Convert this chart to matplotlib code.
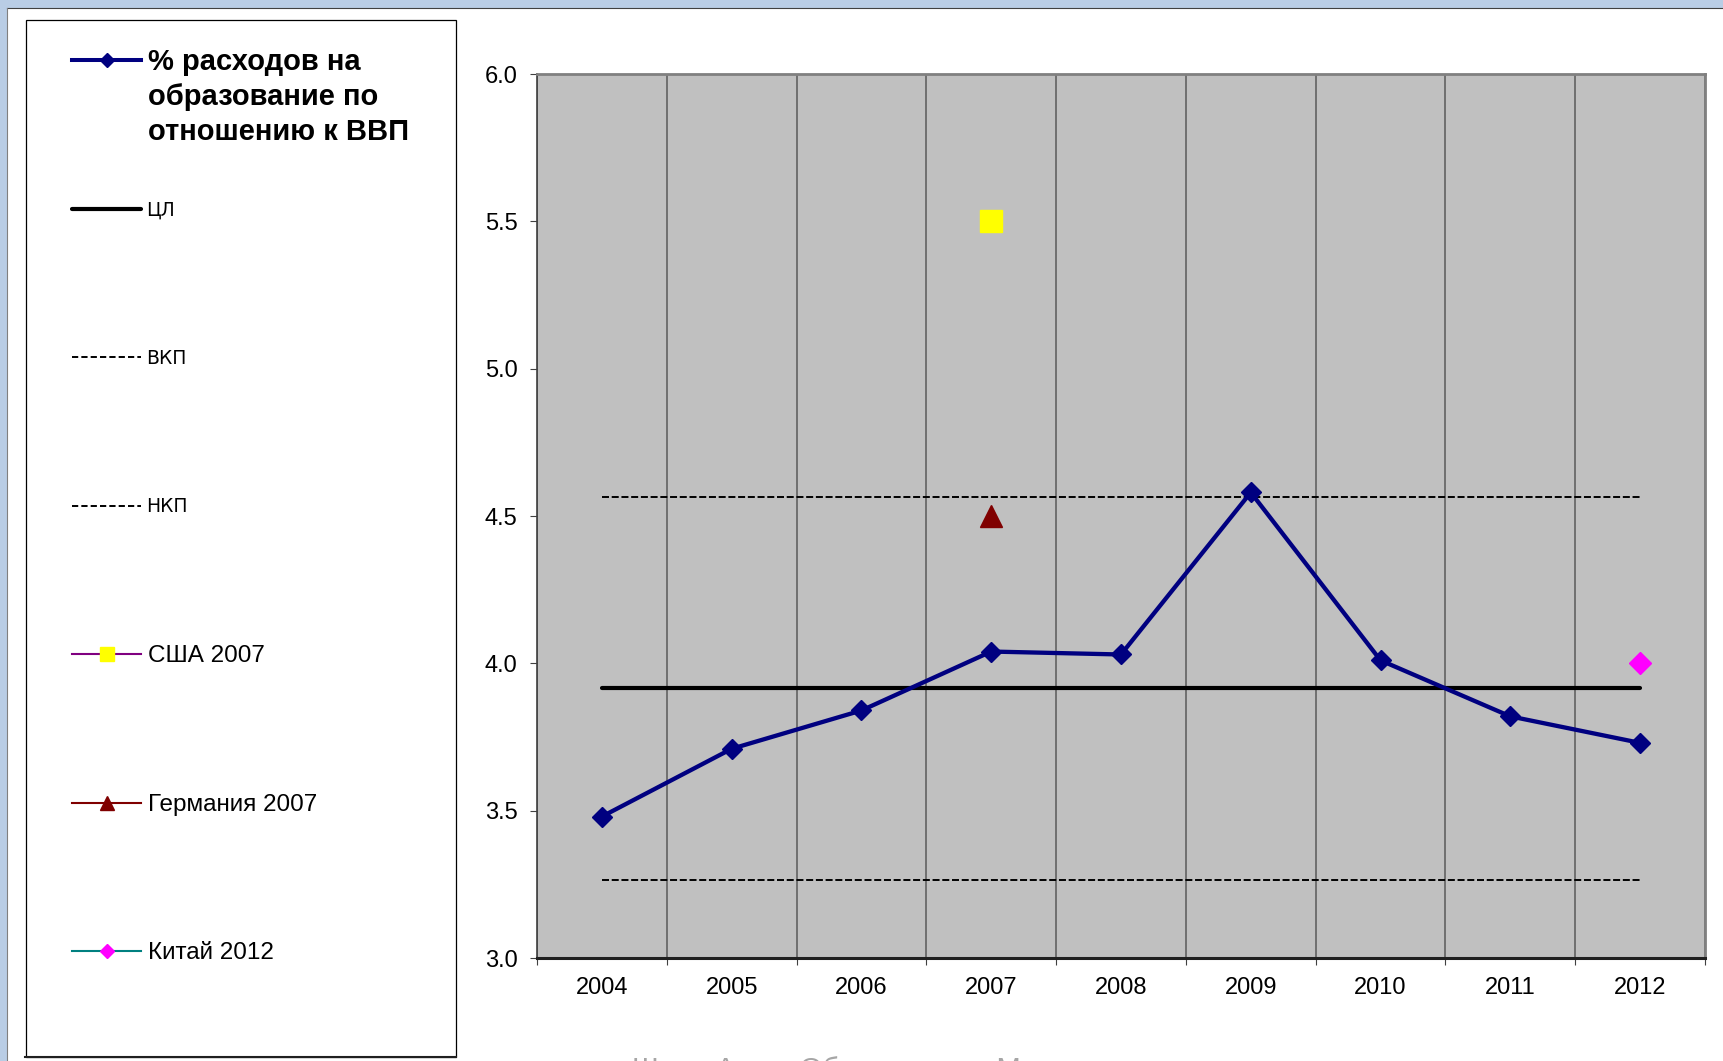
import matplotlib
matplotlib.use('Agg')
import matplotlib.pyplot as plt
from matplotlib.patches import Rectangle
import numpy as np

plt.rcParams['font.family'] = ['Liberation Sans', 'DejaVu Sans']

# data
years = ['2004', '2005', '2006', '2007', '2008', '2009', '2010', '2011', '2012']
share = [3.48, 3.71, 3.84, 4.04, 4.03, 4.58, 4.01, 3.82, 3.73]
cl = 3.915    # ЦЛ
ucl = 4.565   # ВКП
lcl = 3.265   # НКП
usa_2007 = 5.5
germany_2007 = 4.5
china_2012 = 4.0
y_ticks = [3.0, 3.5, 4.0, 4.5, 5.0, 5.5, 6.0]

title_lines = ['% расходов на', 'образование по', 'отношению к ВВП']
legend_labels = ['ЦЛ', 'ВКП', 'НКП', 'США 2007', 'Германия 2007', 'Китай 2012']
footer = 'Шмак Анна  Образование  Москва'

W, H = 1723, 1061
fig = plt.figure(figsize=(W / 100, H / 100), dpi=100, facecolor='#B9CDE5')

# background layer in pixel coordinates
bg = fig.add_axes([0, 0, 1, 1])
bg.set_xlim(0, W)
bg.set_ylim(H, 0)
bg.axis('off')
bg.add_patch(Rectangle((7, 8), W - 7, H - 8, facecolor='white', edgecolor='none'))
bg.plot([7, W], [7.5, 7.5], color='#404040', lw=0.8)
bg.plot([6.5, 6.5], [8, H], color='#808080', lw=0.8)
bg.add_patch(Rectangle((25.5, 19.5), 430, 1037, facecolor='white', edgecolor='black', lw=0.9))
bg.plot([25, 456], [1056.5, 1056.5], color='#202020', lw=1.5)

# legend samples
rows = [60 + i * 148.5 for i in range(7)]
hx = [72, 141]
mx = 107
tx = 148

bg.plot(hx, [rows[0]] * 2, color='#000080', lw=2.9)
bg.plot([mx], [rows[0]], marker='D', color='#000080', ms=7)
for i, line in enumerate(title_lines):
    bg.text(tx, 70.5 + i * 34.6, line, fontsize=21, fontweight='bold',
            va='baseline', ha='left')

bg.plot(hx, [rows[1]] * 2, color='black', lw=3, solid_capstyle='round')
bg.plot(hx, [rows[2]] * 2, color='black', lw=1.4, ls=(0, (3.2, 1.6)))
bg.plot(hx, [rows[3]] * 2, color='black', lw=1.4, ls=(0, (3.2, 1.6)))
for lab, r in zip(legend_labels[:3], rows[1:4]):
    bg.text(tx - 2, r + 6.8, lab, fontsize=13.5, family='DejaVu Sans',
            va='baseline', ha='left')

bg.plot(hx, [rows[4]] * 2, color='#800080', lw=1.5)
bg.plot([mx], [rows[4]], marker='s', color='yellow', ms=10.5, mec='yellow')
bg.plot(hx, [rows[5]] * 2, color='#800000', lw=1.5)
bg.plot([mx], [rows[5]], marker='^', color='#800000', ms=10.5)
bg.plot(hx, [rows[6]] * 2, color='#008080', lw=1.5)
bg.plot([mx], [rows[6]], marker='D', color='magenta', ms=7.5)
for lab, r in zip(legend_labels[3:], rows[4:]):
    bg.text(tx, r + 8, lab, fontsize=17.5, va='baseline', ha='left')

# footer caption, cut by the lower edge as in the original slide
bg.text(632, 1056, footer, fontsize=21, color='#A6A6A6', va='top', ha='left')

# main chart
left, right, top, bottom = 537, 1705, 74, 958
ax = fig.add_axes([left / W, (H - bottom) / H, (right - left) / W, (bottom - top) / H])
ax.set_facecolor('#C0C0C0')
x = np.arange(len(years))
ax.set_xlim(-0.5, len(years) - 0.5)
ax.set_ylim(3, 6)

ax.plot([x[0], x[-1]], [ucl, ucl], color='black', lw=1.4, ls=(0, (3.6, 1.4)), zorder=3)
ax.plot([x[0], x[-1]], [lcl, lcl], color='black', lw=1.4, ls=(0, (3.6, 1.4)), zorder=3)
ax.plot([x[0], x[-1]], [cl, cl], color='black', lw=3, solid_capstyle='round', zorder=3)
ax.plot(x, share, color='#000080', lw=3.1, marker='D', ms=10.5, zorder=5)

ax.plot([years.index('2007')], [usa_2007], marker='s', ls='none', color='yellow',
        mec='yellow', ms=16, zorder=6)
ax.plot([years.index('2007')], [germany_2007], marker='^', ls='none', color='#800000',
        ms=16.5, zorder=6)
ax.plot([years.index('2012')], [china_2012], marker='D', ls='none', color='magenta',
        ms=11.5, zorder=6)

ax.set_yticks(y_ticks)
ax.set_yticklabels(['%.1f' % v for v in y_ticks])
ax.set_xticks(x)
ax.set_xticklabels(years)
ax.set_xticks(np.arange(len(years) + 1) - 0.5, minor=True)
ax.tick_params(axis='x', which='major', length=0, pad=14, labelsize=17)
ax.tick_params(axis='x', which='minor', length=5, width=0.8, color='#404040', direction='out')
ax.tick_params(axis='y', which='major', length=5, width=0.8, color='#404040',
               direction='out', pad=9, labelsize=17)
ax.grid(which='minor', axis='x', color='#595959', lw=1.1)
ax.set_axisbelow(True)

ax.spines['top'].set_color('#808080')
ax.spines['top'].set_linewidth(2)
ax.spines['right'].set_color('#808080')
ax.spines['right'].set_linewidth(2)
ax.spines['left'].set_color('#404040')
ax.spines['left'].set_linewidth(1.2)
ax.spines['bottom'].set_color('#202020')
ax.spines['bottom'].set_linewidth(2.2)

fig.savefig('out.png', dpi=100)
